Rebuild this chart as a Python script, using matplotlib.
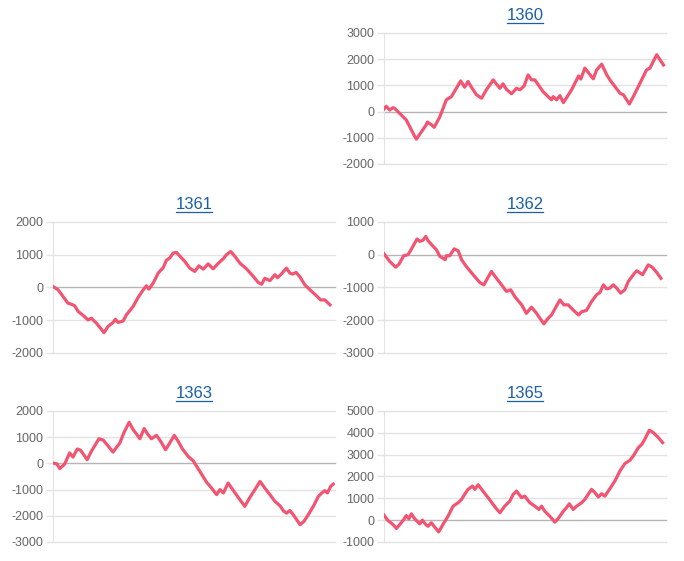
import matplotlib
matplotlib.use('Agg')
import matplotlib.pyplot as plt

# values, x is position across the plot (0..100)
days_1360 = [0, 0.8, 2.0, 3.2, 3.8, 7.9, 10.9, 11.5, 15.0, 15.4, 16.8, 17.8, 19.8, 22.1, 23.9,
             27.2, 28.6, 29.8, 31.0, 32.8, 34.6, 36.3, 38.1, 38.7, 41.1, 42.2, 43.4, 45.2, 47.0,
             48.2, 49.7, 51.1, 52.3, 53.5, 56.4, 58.2, 59.4, 60.0, 61.2, 62.4, 63.6, 65.4, 66.5,
             69.0, 69.8, 71.2, 74.2, 75.4, 77.2, 79.0, 80.1, 83.7, 84.9, 87.0, 88.4, 90.2, 93.1,
             94.3, 96.7, 99.1]
vals_1360 = [100, 200, 60, 150, 120, -320, -950, -1050, -500, -400, -500, -600, -200, 450, 570,
             1170, 930, 1150, 930, 640, 510, 830, 1110, 1210, 890, 1060, 850, 680, 890,
             830, 980, 1400, 1210, 1210, 760, 570, 450, 570, 450, 610, 340, 640, 830,
             1360, 1240, 1660, 1250, 1590, 1810, 1400, 1210, 700, 640, 290, 570, 960, 1590,
             1660, 2170, 1780]

days_1361 = [0, 1.8, 3.6, 5.3, 6.5, 7.7, 8.9, 11.2, 12.4, 13.6, 15.4, 18.1, 19.5, 21.3, 22.1,
             23.1, 24.9, 26.0, 28.4, 30.2, 32.0, 33.1, 34.0, 35.5, 37.3, 39.1, 40.2, 41.4, 42.6,
             43.8, 45.6, 46.7, 48.5, 50.3, 51.7, 53.3, 55.0, 56.8, 58.6, 60.4, 61.5, 63.0, 64.5,
             66.3, 68.6, 71.0, 72.8, 74.0, 75.1, 76.9, 78.7, 79.6, 81.1, 82.2, 82.8, 84.0, 84.9,
             86.2, 87.6, 89.3, 91.1, 93.5, 94.9, 96.4, 98.2]
vals_1361 = [30, -70, -280, -480, -510, -560, -730, -890, -990, -940, -1090, -1380, -1190, -1070, -970,
             -1070, -1020, -840, -580, -300, -70, 50, -50, 130, 440, 610, 830, 900, 1050,
             1070, 900, 800, 590, 490, 660, 560, 720, 570, 740, 880, 1000, 1100, 950,
             740, 570, 340, 150, 100, 280, 210, 390, 300, 420, 540, 590, 440, 410,
             460, 320, 80, -70, -260, -380, -380, -530]

days_1362 = [0, 2.0, 4.1, 5.3, 6.2, 7.0, 8.5, 9.7, 11.7, 12.7, 13.8, 14.8, 15.6, 17.4, 18.6,
             19.8, 21.7, 22.1, 23.3, 24.9, 26.3, 27.5, 29.2, 31.6, 34.0, 35.4, 36.7, 38.1, 39.9,
             41.7, 43.4, 44.9, 46.4, 48.8, 50.5, 52.3, 54.1, 55.3, 56.7, 58.2, 59.4, 61.2, 62.4,
             63.8, 65.3, 67.1, 69.0, 70.1, 71.8, 73.6, 75.4, 76.6, 77.8, 78.9, 80.1, 81.3, 82.5,
             83.9, 85.4, 86.6, 88.4, 89.6, 90.5, 91.7, 93.7, 95.1, 96.7, 98.2]
vals_1362 = [30, -200, -380, -290, -150, -30, 0, 170, 480, 410, 440, 560, 430, 260, 150,
             -50, -150, -30, -30, 180, 120, -150, -360, -610, -850, -920, -720, -510, -720,
             -920, -1120, -1070, -1280, -1530, -1790, -1600, -1790, -1940, -2110, -1940, -1840, -1560, -1380,
             -1530, -1530, -1690, -1840, -1740, -1700, -1430, -1220, -1150, -920, -1040, -1020, -920, -1020,
             -1170, -1070, -820, -610, -490, -540, -610, -310, -380, -540, -720]

days_1363 = [0, 1.4, 2.4, 4.1, 5.9, 7.1, 8.6, 9.8, 12.1, 13.6, 16.3, 17.8, 19.2, 21.3, 22.5,
             23.7, 25.1, 27.0, 28.4, 29.6, 30.8, 32.3, 33.7, 34.9, 36.7, 38.2, 39.9, 41.4, 43.0,
             44.4, 45.9, 47.9, 49.7, 52.1, 54.4, 56.2, 58.0, 59.2, 60.4, 62.1, 63.9, 66.3, 68.0,
             69.8, 71.6, 73.4, 75.1, 76.9, 78.7, 80.5, 81.7, 82.8, 84.0, 85.2, 86.4, 87.6, 89.0,
             90.5, 92.3, 94.1, 95.3, 96.4, 97.3, 98.5, 99.4]
vals_1363 = [10, -20, -200, -30, 400, 240, 550, 500, 140, 460, 940, 890, 710, 430, 610,
             780, 1160, 1570, 1290, 1120, 940, 1330, 1100, 940, 1070, 840, 520, 780, 1070,
             840, 550, 270, 100, -310, -710, -940, -1190, -1000, -1130, -750, -1030, -1390, -1640,
             -1300, -1000, -690, -940, -1190, -1450, -1620, -1810, -1900, -1800, -1960, -2150, -2340, -2210,
             -1960, -1640, -1260, -1130, -1040, -1130, -870, -790]

days_1365 = [0, 1.4, 3.2, 4.4, 5.6, 7.0, 7.9, 8.8, 9.7, 10.9, 12.7, 13.6, 14.8, 15.6, 16.8,
             18.0, 19.4, 20.9, 22.7, 24.5, 26.3, 27.5, 28.6, 29.8, 31.4, 32.2, 33.4, 35.1, 36.9,
             38.7, 39.9, 41.1, 42.8, 44.6, 45.8, 47.0, 48.8, 49.9, 51.7, 53.5, 54.9, 55.9, 57.0,
             58.8, 60.6, 61.8, 63.6, 64.7, 65.7, 67.1, 68.3, 70.1, 71.2, 72.4, 73.6, 74.8, 76.0,
             77.2, 78.3, 80.1, 81.9, 83.7, 85.4, 87.2, 88.4, 90.2, 91.4, 92.5, 94.1, 95.5, 97.3, 98.8]
vals_1365 = [230, -15, -200, -380, -200, 30, 210, 60, 290, 60, -170, 0, -200, -280, -120,
             -320, -540, -200, 180, 640, 800, 950, 1180, 1410, 1560, 1410, 1620, 1330, 1030,
             720, 520, 340, 640, 870, 1180, 1330, 1030, 1100, 800, 640, 490, 640, 410,
             180, -90, 80, 410, 570, 750, 490, 640, 800, 950, 1180, 1410, 1260, 1060,
             1210, 1100, 1440, 1800, 2260, 2590, 2740, 2940, 3320, 3470, 3710, 4120, 4010, 3780, 3550]

titles = ['1360', '1361', '1362', '1363', '1365']
yticks = [
    [-2000, -1000, 0, 1000, 2000, 3000],
    [-2000, -1000, 0, 1000, 2000],
    [-3000, -2000, -1000, 0, 1000],
    [-3000, -2000, -1000, 0, 1000, 2000],
    [-1000, 0, 1000, 2000, 3000, 4000, 5000],
]
series = [(days_1360, vals_1360), (days_1361, vals_1361), (days_1362, vals_1362),
          (days_1363, vals_1363), (days_1365, vals_1365)]

# axes boxes in figure fractions [left, bottom, width, height]
W = 0.4123
H = 0.2335
boxes = [
    [0.5614, 0.7077, W, H],
    [0.0775, 0.3708, W, H],
    [0.5614, 0.3708, W, H],
    [0.0775, 0.0339, W, H],
    [0.5614, 0.0339, W, H],
]

line_color = '#f25472'
grid_color = '#e3e3e3'
zero_color = '#b5b5b5'
text_color = '#666666'
title_color = '#1a5ea8'

plt.rcParams['font.family'] = ['Liberation Sans', 'DejaVu Sans']

fig = plt.figure(figsize=(6.84, 5.61), dpi=100)

for box, title, ticks, (xs, ys) in zip(boxes, titles, yticks, series):
    ax = fig.add_axes(box)
    ax.set_xlim(0, 100)
    ax.set_ylim(ticks[0], ticks[-1])
    ax.set_yticks(ticks)
    ax.set_yticklabels([str(t) for t in ticks])
    ax.set_xticks([])
    for t in ticks:
        ax.axhline(t, color=zero_color if t == 0 else grid_color, lw=1, zorder=1, clip_on=False)
    ax.plot(xs, ys, color=line_color, lw=2.3, solid_joinstyle='round', zorder=3)
    for s in ['top', 'right', 'bottom']:
        ax.spines[s].set_visible(False)
    ax.spines['left'].set_color(grid_color)
    ax.tick_params(axis='y', length=5, width=1, color=grid_color, labelcolor=text_color,
                   labelsize=9, pad=2)

    # title drawn like an underlined link
    ax.annotate(title, xy=(0.5, 1.0), xycoords='axes fraction', xytext=(0, 9),
                textcoords='offset points', ha='center', va='baseline', fontsize=12,
                color=title_color)
    ax.plot([0.5 - 0.063, 0.5 + 0.063], [1.0 + 10 / 131, 1.0 + 10 / 131], transform=ax.transAxes,
            color=title_color, lw=0.9, clip_on=False)

fig.savefig('out.png', dpi=100)
